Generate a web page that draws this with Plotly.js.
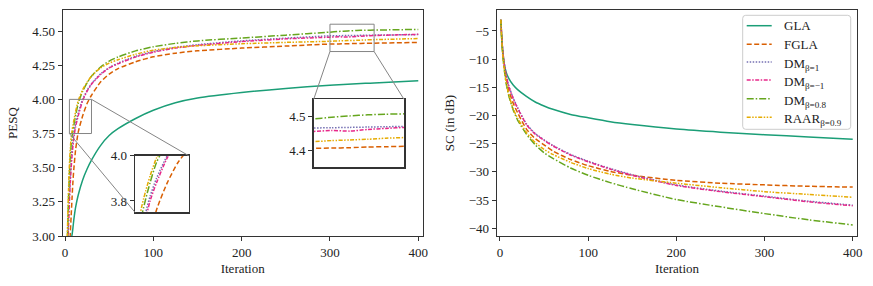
<!DOCTYPE html>
<html>
<head>
<meta charset="utf-8">
<script src="https://cdn.plot.ly/plotly-3.0.1.min.js"></script>
<style>html,body{margin:0;padding:0;background:#fff;}#chart{width:873px;height:286px;}</style>
</head>
<body>
<div id="chart"></div>
<script>
// ---------- DATA ----------
const seriesNames = ["GLA", "FGLA", "DM<sub>β=1</sub>", "DM<sub>β=−1</sub>", "DM<sub>β=0.8</sub>", "RAAR<sub>β=0.9</sub>"];

// PESQ (left panel)
const pesqIter = [1,2,3,4,5,6,7,8,9,10,12,15,20,25,30,40,50,60,80,100,125,150,200,250,300,310,320,330,340,350,400];
const pesqGLA  = [2.30,2.48,2.62,2.74,2.84,2.92,2.97,3.01,3.06,3.12,3.21,3.30,3.41,3.49,3.555,3.66,3.735,3.785,3.86,3.92,3.975,4.01,4.05,4.08,4.103,4.107,4.11,4.114,4.117,4.12,4.136];
const pesqFGLA = [2.00,2.25,2.50,2.70,2.88,3.02,3.15,3.28,3.40,3.49,3.63,3.76,3.88,3.97,4.03,4.125,4.185,4.225,4.275,4.312,4.338,4.355,4.375,4.39,4.405,4.406,4.407,4.409,4.41,4.411,4.417];
const pesqDM1  = [2.25,2.60,2.90,3.12,3.29,3.43,3.54,3.63,3.70,3.75,3.82,3.90,4.00,4.065,4.115,4.185,4.232,4.265,4.315,4.35,4.38,4.40,4.428,4.448,4.465,4.466,4.467,4.468,4.469,4.47,4.474];
const pesqDMm1 = [2.20,2.55,2.85,3.08,3.25,3.39,3.50,3.59,3.66,3.72,3.80,3.88,3.99,4.06,4.11,4.18,4.23,4.26,4.31,4.345,4.375,4.395,4.423,4.443,4.455,4.458,4.456,4.461,4.464,4.467,4.476];
const pesqDM08 = [2.35,2.75,3.05,3.28,3.45,3.58,3.67,3.73,3.77,3.81,3.88,3.97,4.06,4.12,4.17,4.235,4.28,4.31,4.355,4.385,4.41,4.428,4.449,4.47,4.492,4.497,4.501,4.504,4.506,4.507,4.512];
const pesqRAAR = [2.40,2.80,3.10,3.34,3.52,3.64,3.72,3.77,3.81,3.845,3.91,3.99,4.07,4.125,4.17,4.23,4.265,4.29,4.33,4.36,4.38,4.392,4.407,4.417,4.425,4.428,4.43,4.432,4.435,4.437,4.445];

// SC in dB (right panel)
const scIter = [1,2,3,4,5,7,10,15,20,30,40,50,60,80,100,125,150,200,250,300,350,400];
const scGLA  = [-3.0,-6.2,-8.3,-9.8,-10.9,-12.3,-13.4,-14.6,-15.4,-16.6,-17.6,-18.3,-18.9,-19.8,-20.4,-21.1,-21.6,-22.4,-22.95,-23.4,-23.8,-24.2];
const scFGLA = [-3.0,-6.2,-8.4,-10.0,-11.3,-13.3,-15.5,-17.8,-19.5,-22.4,-24.1,-25.2,-26.3,-27.8,-28.9,-29.9,-30.6,-31.5,-32.0,-32.3,-32.55,-32.7];
const scDM1  = [-3.0,-6.0,-8.2,-9.8,-11.0,-12.8,-14.7,-16.9,-18.6,-21.5,-23.2,-24.3,-25.3,-26.9,-28.1,-29.4,-30.5,-32.3,-33.4,-34.3,-35.2,-35.9];
const scDMm1 = [-3.0,-6.0,-8.2,-9.8,-11.0,-12.9,-14.8,-17.0,-18.7,-21.6,-23.3,-24.4,-25.4,-27.0,-28.2,-29.5,-30.6,-32.4,-33.5,-34.4,-35.3,-36.0];
const scDM08 = [-3.0,-6.5,-9.0,-10.6,-12.0,-14.3,-16.5,-19.0,-20.8,-23.3,-25.2,-26.6,-27.6,-29.3,-30.6,-31.9,-33.0,-34.9,-36.2,-37.4,-38.5,-39.4];
const scRAAR = [-3.0,-6.5,-8.9,-10.5,-11.9,-14.1,-16.3,-18.8,-20.5,-23.0,-24.8,-26.0,-26.9,-28.3,-29.4,-30.4,-31.1,-32.0,-32.8,-33.5,-34.0,-34.5];

// inset zoom windows
const inset1X = [5, 30], inset1Y = [3.75, 4.0];
const inset2X = [300, 350], inset2Y = [4.35, 4.55];

// ---------- STYLE ----------
const colors = ["#1b9e77", "#d95f02", "#7570b3", "#e7298a", "#66a61e", "#e6ab02"];
const dashes = ["solid", "5px,2.5px", "1.5px,1.5px", "4px,1.5px,1.5px,1.5px", "7px,2px,1.5px,2px", "4px,1.5px,1.5px,1.5px,1.5px,1.5px"];
const FONT = "'Liberation Serif', 'Times New Roman', serif";
const W = 873, H = 286;

const pesqAll = [pesqGLA, pesqFGLA, pesqDM1, pesqDMm1, pesqDM08, pesqRAAR];
const scAll = [scGLA, scFGLA, scDM1, scDMm1, scDM08, scRAAR];

// domains (paper fractions)
const dom = {
  x1: [62.7/W, 422.7/W], x2: [496.7/W, 857.3/W], y: [1-236/H, 1-10/H],
  x3: [135/W, 188.7/W], y3: [1-212.3/H, 1-155.7/H],
  x4: [313.7/W, 404/W], y4: [1-167/H, 1-99.3/H]
};
const rng = { x1: [-2.6, 405], y1: [3.0, 4.654], x2: [-3.7, 405.2], y2: [-41.37, -1.28] };

const traces = [];
for (let i = 0; i < 6; i++) {
  const line = { color: colors[i], width: 1.5, dash: dashes[i], shape: "spline", smoothing: 0.6 };
  traces.push({ x: pesqIter, y: pesqAll[i], xaxis: "x", yaxis: "y", mode: "lines", line, showlegend: false, hoverinfo: "skip" });
  traces.push({ x: scIter, y: scAll[i], xaxis: "x2", yaxis: "y2", mode: "lines", line, name: seriesNames[i], showlegend: false, hoverinfo: "skip" });
  if (i > 0) {
    traces.push({ x: pesqIter, y: pesqAll[i], xaxis: "x3", yaxis: "y3", mode: "lines", line, showlegend: false, hoverinfo: "skip" });
    traces.push({ x: pesqIter, y: pesqAll[i], xaxis: "x4", yaxis: "y4", mode: "lines", line, showlegend: false, hoverinfo: "skip" });
  }
}

const axBase = {
  showline: true, mirror: true, linecolor: "#333", linewidth: 1.1,
  ticks: "outside", ticklen: 4, tickwidth: 1, tickcolor: "#333",
  showgrid: false, zeroline: false,
  tickfont: { family: FONT, size: 13, color: "#222" }
};
const titleFont = { family: FONT, size: 13, color: "#222" };

function px(v, r, d) { return d[0] + (v - r[0]) / (r[1] - r[0]) * (d[1] - d[0]); }

const gray = { color: "#858585", width: 1 };
const shapes = [
  { type: "rect", xref: "x", yref: "y", x0: inset1X[0], x1: inset1X[1], y0: inset1Y[0], y1: inset1Y[1], line: gray },
  { type: "rect", xref: "x", yref: "y", x0: inset2X[0], x1: inset2X[1], y0: inset2Y[0], y1: inset2Y[1], line: gray },
  { type: "line", xref: "paper", yref: "paper",
    x0: px(inset1X[1], rng.x1, dom.x1), y0: px(inset1Y[1], rng.y1, dom.y), x1: dom.x3[1], y1: dom.y3[1], line: gray },
  { type: "line", xref: "paper", yref: "paper",
    x0: px(inset1X[0], rng.x1, dom.x1), y0: px(inset1Y[0], rng.y1, dom.y), x1: dom.x3[0], y1: dom.y3[0], line: gray },
  { type: "line", xref: "paper", yref: "paper",
    x0: px(inset2X[0], rng.x1, dom.x1), y0: px(inset2Y[0], rng.y1, dom.y), x1: dom.x4[0], y1: dom.y4[1], line: gray },
  { type: "line", xref: "paper", yref: "paper",
    x0: px(inset2X[1], rng.x1, dom.x1), y0: px(inset2Y[0], rng.y1, dom.y), x1: dom.x4[1], y1: dom.y4[1], line: gray }
];

// ---------- manual legend (right panel) ----------
const annotations = [];
const LG = { x0: 742.7, x1: 850.7, y0: 15.3, y1: 129.3, r: 3 };
const lp = (xp, yp) => (xp / W).toFixed(5) + "," + (1 - yp / H).toFixed(5);
shapes.push({
  type: "path", xref: "paper", yref: "paper", layer: "above",
  path: "M" + lp(LG.x0 + LG.r, LG.y0) + " L" + lp(LG.x1 - LG.r, LG.y0) + " Q" + lp(LG.x1, LG.y0) + " " + lp(LG.x1, LG.y0 + LG.r) +
        " L" + lp(LG.x1, LG.y1 - LG.r) + " Q" + lp(LG.x1, LG.y1) + " " + lp(LG.x1 - LG.r, LG.y1) +
        " L" + lp(LG.x0 + LG.r, LG.y1) + " Q" + lp(LG.x0, LG.y1) + " " + lp(LG.x0, LG.y1 - LG.r) +
        " L" + lp(LG.x0, LG.y0 + LG.r) + " Q" + lp(LG.x0, LG.y0) + " " + lp(LG.x0 + LG.r, LG.y0) + " Z",
  fillcolor: "rgba(255,255,255,0.85)", line: { color: "#cccccc", width: 1 }
});
const entryY = [25.7, 44.3, 62, 80, 98.7, 117.3];
for (let i = 0; i < 6; i++) {
  shapes.push({ type: "line", xref: "paper", yref: "paper", layer: "above",
    x0: 746.7 / W, x1: 771.7 / W, y0: 1 - entryY[i] / H, y1: 1 - entryY[i] / H,
    line: { color: colors[i], width: 1.5, dash: dashes[i] } });
  const hasSub = seriesNames[i].indexOf("<sub>") >= 0;
  annotations.push({ xref: "paper", yref: "paper", x: 781.7 / W, y: 1 - entryY[i] / H,
    xanchor: "left", yanchor: "middle", yshift: hasSub ? -2.5 : 0, showarrow: false,
    text: seriesNames[i], font: { family: FONT, size: 13, color: "#222" } });
}

const insetAx = { showline: true, mirror: true, linecolor: "#333", linewidth: 1.5, showgrid: false, zeroline: false };

const layout = {
  width: W, height: H,
  margin: { l: 0, r: 0, t: 0, b: 0 },
  paper_bgcolor: "#fff", plot_bgcolor: "#fff",
  showlegend: false,
  xaxis: Object.assign({}, axBase, { domain: dom.x1, range: rng.x1, tickvals: [0,100,200,300,400], anchor: "y",
    title: { text: "Iteration", font: titleFont, standoff: 5 } }),
  yaxis: Object.assign({}, axBase, { domain: dom.y, range: rng.y1, tickvals: [3.0,3.25,3.5,3.75,4.0,4.25,4.5], tickformat: ".2f", anchor: "x",
    title: { text: "PESQ", font: titleFont, standoff: 11 } }),
  xaxis2: Object.assign({}, axBase, { domain: dom.x2, range: rng.x2, tickvals: [0,100,200,300,400], anchor: "y2",
    title: { text: "Iteration", font: titleFont, standoff: 5 } }),
  yaxis2: Object.assign({}, axBase, { domain: dom.y, range: rng.y2, tickvals: [-5,-10,-15,-20,-25,-30,-35,-40], anchor: "x2",
    title: { text: "SC (in dB)", font: titleFont, standoff: 11 } }),
  xaxis3: Object.assign({}, insetAx, { domain: dom.x3, range: inset1X, anchor: "y3", showticklabels: false, ticks: "" }),
  yaxis3: Object.assign({}, insetAx, { domain: dom.y3, range: inset1Y, anchor: "x3", tickvals: [3.8, 4.0], tickformat: ".1f",
    ticks: "outside", ticklen: 4, tickcolor: "#333", tickfont: { family: FONT, size: 13, color: "#222" } }),
  xaxis4: Object.assign({}, insetAx, { domain: dom.x4, range: inset2X, anchor: "y4", showticklabels: false, ticks: "" }),
  yaxis4: Object.assign({}, insetAx, { domain: dom.y4, range: inset2Y, anchor: "x4", tickvals: [4.4, 4.5], tickformat: ".1f",
    ticks: "outside", ticklen: 4, tickcolor: "#333", tickfont: { family: FONT, size: 13, color: "#222" } }),
  shapes: shapes,
  annotations: annotations
};

Plotly.newPlot("chart", traces, layout, { staticPlot: true, displayModeBar: false });
</script>
</body>
</html>
